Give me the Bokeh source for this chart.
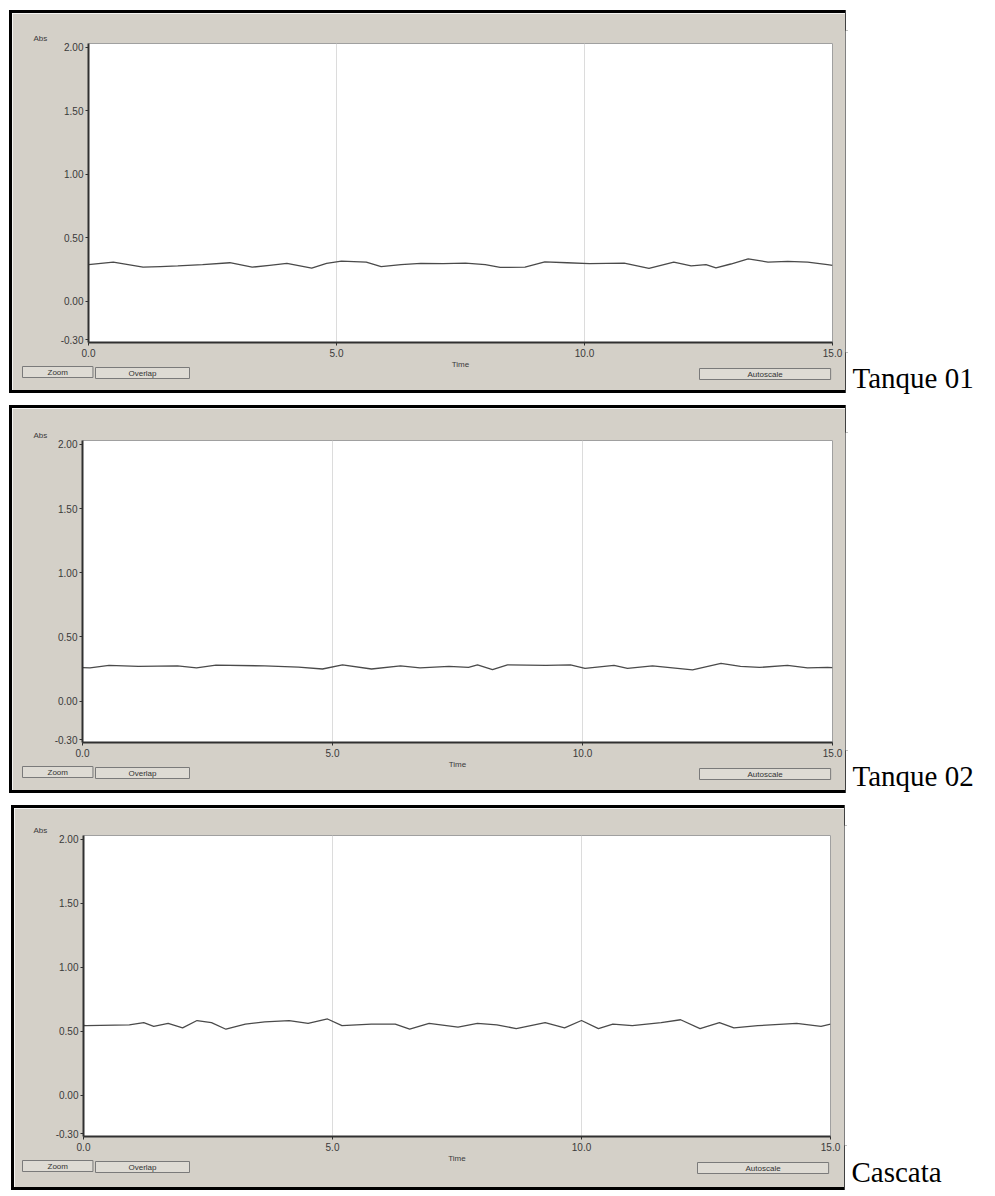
from bokeh.plotting import figure
from bokeh.models import Range1d, FixedTicker, Title
from bokeh.layouts import column, row
from bokeh.embed import file_html
from bokeh.resources import INLINE

# ---------------- data ----------------
x_ticks = [0, 5, 10, 15]
x_tick_labels = ["0.0", "5.0", "10.0", "15.0"]
y_ticks = [-0.3, 0.0, 0.5, 1.0, 1.5, 2.0]
y_tick_labels = ["-0.30", "0.00", "0.50", "1.00", "1.50", "2.00"]
panel_names = ["Tanque 01", "Tanque 02", "Cascata"]
button_texts = ["Zoom", "Overlap", "Autoscale"]

t1 = [0.0, 0.25, 0.5, 0.8, 1.1, 1.45, 1.8, 2.3, 2.85, 3.3, 3.65, 4.0, 4.5, 4.8,
      5.1, 5.6, 5.9, 6.3, 6.7, 7.15, 7.6, 8.0, 8.3, 8.8, 9.2, 9.65, 10.1, 10.45,
      10.8, 11.3, 11.8, 12.15, 12.45, 12.65, 12.95, 13.3, 13.7, 14.1, 14.5, 14.9, 15.0]
v1 = [0.29, 0.30, 0.31, 0.29, 0.27, 0.275, 0.28, 0.29, 0.305, 0.27, 0.285, 0.30,
      0.262, 0.30, 0.318, 0.31, 0.275, 0.29, 0.30, 0.298, 0.302, 0.29, 0.268, 0.27,
      0.312, 0.305, 0.298, 0.30, 0.302, 0.26, 0.31, 0.28, 0.29, 0.265, 0.295, 0.335,
      0.31, 0.315, 0.31, 0.29, 0.285]

t2 = [0.0, 0.15, 0.53, 1.12, 1.9, 2.28, 2.67, 3.64, 4.32, 4.8, 5.2, 5.78, 6.36,
      6.75, 7.33, 7.72, 7.9, 8.2, 8.5, 9.27, 9.76, 10.05, 10.63, 10.9, 11.4, 12.2,
      12.77, 13.16, 13.54, 14.1, 14.5, 14.9, 15.0]
v2 = [0.26, 0.258, 0.278, 0.27, 0.274, 0.258, 0.28, 0.274, 0.264, 0.25, 0.282,
      0.25, 0.274, 0.258, 0.27, 0.262, 0.282, 0.245, 0.282, 0.278, 0.282, 0.255,
      0.278, 0.255, 0.274, 0.243, 0.293, 0.27, 0.262, 0.278, 0.258, 0.262, 0.26]

t3 = [0.0, 0.05, 0.92, 1.21, 1.41, 1.7, 1.99, 2.28, 2.57, 2.86, 3.25, 3.64, 4.13,
      4.51, 4.9, 5.19, 5.78, 6.26, 6.55, 6.94, 7.52, 7.91, 8.3, 8.69, 9.27, 9.66,
      10.0, 10.34, 10.63, 11.02, 11.6, 11.99, 12.38, 12.77, 13.06, 13.54, 14.32,
      14.81, 15.0]
v3 = [0.545, 0.544, 0.55, 0.567, 0.539, 0.561, 0.527, 0.584, 0.567, 0.516, 0.556,
      0.573, 0.584, 0.561, 0.596, 0.544, 0.556, 0.556, 0.516, 0.561, 0.533, 0.561,
      0.55, 0.521, 0.567, 0.527, 0.584, 0.521, 0.556, 0.544, 0.567, 0.59, 0.521,
      0.567, 0.527, 0.544, 0.561, 0.539, 0.556]

series = [(t1, v1), (t2, v2), (t3, v3)]

# ---------------- layout / style ----------------
GRAY = "#d4d0c8"
LAB_W = 147
# page-pixel geometry: black box (bl..br, bt..bb), plot frame (fl..fr, ft..fb), row height RH
geoms = [
    dict(RH=400, bl=9, br=848, bt=10, bb=393, fl=88, fr=832, ft=43, fb=342, lab=14),
    dict(RH=398, bl=9, br=848, bt=5, bb=393, fl=82, fr=832, ft=40, fb=343, lab=14),
    dict(RH=398, bl=11, br=847, bt=7, bb=392, fl=83, fr=830, ft=37, fb=338, lab=16),
]
# button boxes: (left edge on page, width, approx. text width)
button_boxes = [(22, 71, 21), (95, 95, 29), (None, 133, 36)]


def set_padding(title, pad_lr, pad_tb):
    try:
        title.padding = dict(left=pad_lr, right=pad_lr, top=pad_tb, bottom=pad_tb)
    except Exception:
        try:
            title.padding = (pad_tb, pad_lr)
        except Exception:
            title.padding = pad_tb


rows = []
for i, ((t, v), name, g) in enumerate(zip(series, panel_names, geoms)):
    x0, y0 = g["bl"] + 3, g["bt"] + 3           # figure origin on the page
    W = g["br"] - g["bl"] - 6
    H = g["bb"] - g["bt"] - 6
    p = figure(width=W, height=H, x_range=Range1d(0, 15), y_range=Range1d(-0.323, 2.031),
               output_backend="svg", toolbar_location=None,
               min_border_left=g["fl"] - x0, min_border_right=(x0 + W) - g["fr"],
               min_border_top=g["ft"] - y0, min_border_bottom=(y0 + H) - g["fb"],
               margin=(y0, 0, g["RH"] - (y0 + H), x0))
    p.styles = {"box-shadow": "0 0 0 3px #000000"}
    p.border_fill_color = GRAY
    p.background_fill_color = "white"
    p.outline_line_color = "#a0a0a0"
    p.outline_line_width = 1

    p.line(t, v, line_color="#4a4a4a", line_width=1.3)

    p.title.text = "Abs"
    p.title.align = "left"
    p.title.offset = -(g["fl"] - 33)
    p.title.standoff = 2
    p.title.text_font = "Liberation Sans"
    p.title.text_font_style = "normal"
    p.title.text_font_size = "8px"
    p.title.text_color = "#3a3a3a"

    p.xaxis.ticker = FixedTicker(ticks=x_ticks)
    p.xaxis.major_label_overrides = dict(zip(x_ticks, x_tick_labels))
    p.yaxis.ticker = FixedTicker(ticks=y_ticks)
    p.yaxis.major_label_overrides = dict(zip(y_ticks, y_tick_labels))
    p.xaxis.axis_label = "Time"
    for ax in (p.xaxis[0], p.yaxis[0]):
        ax.minor_tick_line_color = None
        ax.major_label_text_font = "Liberation Sans"
        ax.major_label_text_font_size = "10px"
        ax.major_label_text_color = "#3a3a3a"
        ax.major_tick_in = 0
        ax.major_tick_out = 3
        ax.major_tick_line_color = "#303030"
        ax.axis_line_color = "#303030"
        ax.axis_line_width = 2
    p.yaxis.major_label_text_baseline = "top"
    p.yaxis.major_label_standoff = 2
    p.xaxis.major_label_standoff = 3
    p.xaxis.axis_label_text_font = "Liberation Sans"
    p.xaxis.axis_label_text_font_style = "normal"
    p.xaxis.axis_label_text_font_size = "8px"
    p.xaxis.axis_label_text_color = "#3a3a3a"
    p.xaxis.axis_label_standoff = 0
    p.xgrid.ticker = FixedTicker(ticks=x_ticks)
    p.xgrid.grid_line_color = "#dcdcdc"
    p.ygrid.grid_line_color = None

    # buttons: small titles in the bottom panel, nearly zero-height so they share one row
    for txt, (bx, bw, tw) in zip(button_texts, button_boxes):
        if bx is None:
            bx = g["fr"] - bw
        pad = max(int((bw - tw) / 2), 1)
        bt_ = Title(text=txt, align="left", vertical_align="middle",
                    offset=bx - g["fl"], standoff=-12,
                    text_font="Liberation Sans", text_font_size="8px",
                    text_font_style="normal", text_color="#333333",
                    background_fill_color="#dedbd4", border_line_color="#7a7a7a")
        set_padding(bt_, pad, 1)
        p.add_layout(bt_, "below")

    lf = figure(width=LAB_W, height=g["RH"], x_range=Range1d(0, 1), y_range=Range1d(0, 1),
                x_axis_type=None, y_axis_type=None,
                output_backend="svg", toolbar_location=None,
                min_border_left=0, min_border_right=0, min_border_top=0, min_border_bottom=0)
    lf.grid.visible = False
    lf.outline_line_color = None
    lf.border_fill_color = "white"
    lf.add_layout(Title(text=name, text_font="Liberation Serif", text_font_size="29px",
                        text_font_style="normal", text_color="black",
                        align="left", offset=7, standoff=g["lab"]), "below")
    rows.append(row(p, lf, spacing=0))

layout = column(*rows, spacing=0)
open("out.html", "w").write(file_html(layout, INLINE))
